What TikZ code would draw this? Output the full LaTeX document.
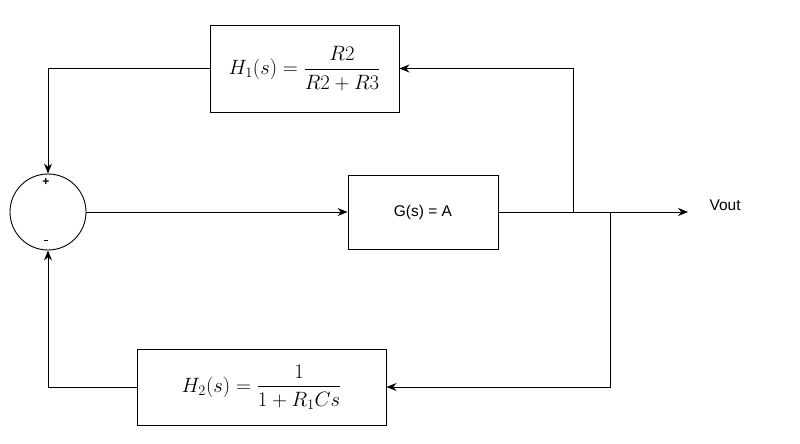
\documentclass[tikz,border=0pt]{standalone}
\usepackage{amsmath}
\usepackage{fontspec}
\newfontfamily\sansf{Liberation Sans}
\usetikzlibrary{arrows.meta}
\begin{document}
\begin{tikzpicture}[x=1pt,y=-1pt,
  blk/.style={draw,line width=0.9pt,inner sep=0pt},
  wire/.style={draw,line width=0.9pt},
  arr/.style={wire,-{Stealth[length=10pt,width=8pt]}},
  lbl/.style={font=\sansf\fontsize{15.5}{18}\selectfont},
  mth/.style={font=\fontsize{20}{24}\selectfont}]
\useasboundingbox (0,0) rectangle (800,444);
\node[draw,circle,line width=0.9pt,minimum size=76pt,inner sep=0pt] (sum) at (48,212) {};
\node[blk,minimum width=189pt,minimum height=87pt,mth] (h1) at (304.5,68.5) {$H_1(s)=\dfrac{R2}{R2+R3}$};
\node[blk,minimum width=150pt,minimum height=74pt,lbl] (g) at (423,212) {G(s) = A};
\node[blk,minimum width=249pt,minimum height=76pt,mth] (h2) at (261.5,387) {$H_2(s)=\dfrac{1}{1+R_1Cs}$};
\node[font=\sansf\bfseries\fontsize{12}{13}\selectfont] (plus) at (46,182) {+};
\node[font=\sansf\bfseries\fontsize{12}{13}\selectfont] (minus) at (46,242) {\rule[0.25em]{0.35em}{1.2pt}};
\node[lbl,anchor=west] (vout) at (706,205) {Vout};
\coordinate (out) at (688,212);
\coordinate (b1) at (573,212);
\coordinate (b2) at (610,212);
\draw[arr] (sum.east) -- (g.west);
\draw[arr] (g.east) -- (out);
\draw[arr] (b1) |- (h1.east);
\draw[arr] (b2) |- (h2.east);
\draw[arr] (h1.west) -| (sum.north);
\draw[arr] (h2.west) -| (sum.south);
\end{tikzpicture}
\end{document}
